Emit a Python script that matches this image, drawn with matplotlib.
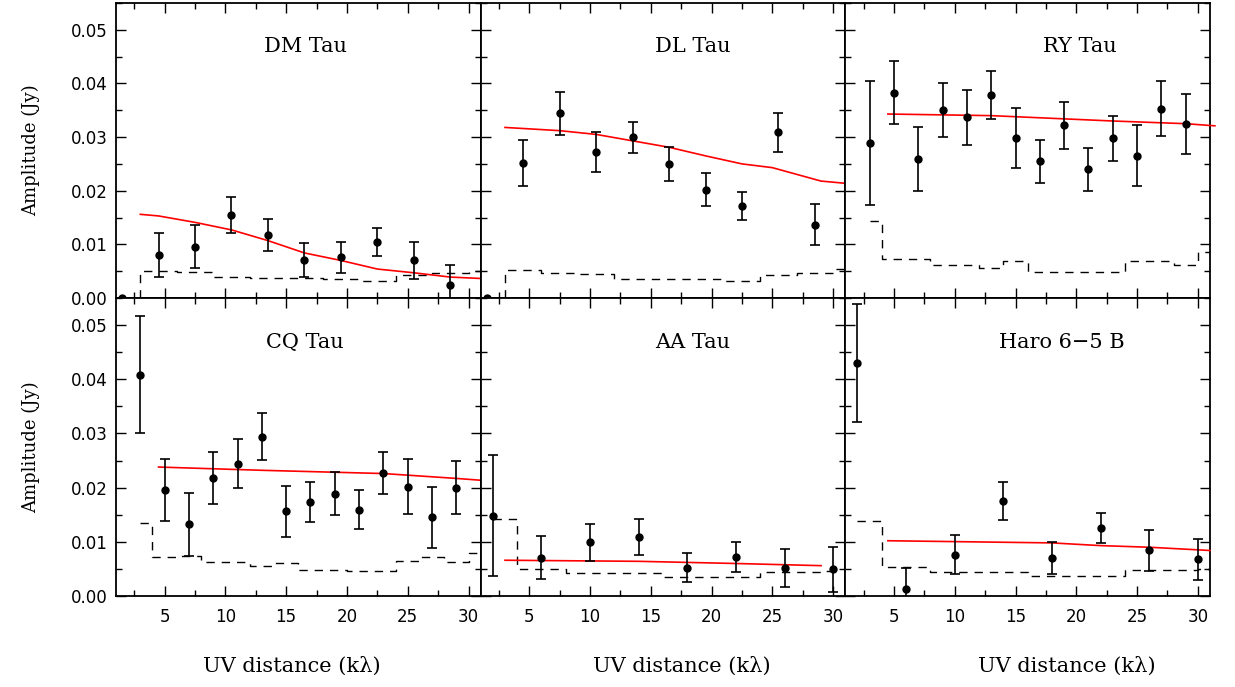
import numpy as np
import matplotlib
matplotlib.use('Agg')
import matplotlib.pyplot as plt
from matplotlib.ticker import MultipleLocator, FormatStrFormatter

# ---- binned visibility amplitudes (x in klambda, amplitude and 1-sigma in Jy)
dm_x = [4.5, 7.5, 10.5, 13.5, 16.5, 19.5, 22.5, 25.5, 28.5]
dm_amp = [0.0081, 0.0096, 0.0155, 0.0117, 0.0071, 0.0076, 0.0105, 0.0070, 0.0024]
dm_err = [0.0041, 0.0040, 0.0033, 0.0030, 0.0031, 0.0029, 0.0026, 0.0034, 0.0037]

dl_x = [4.5, 7.5, 10.5, 13.5, 16.5, 19.5, 22.5, 25.5, 28.5]
dl_amp = [0.0251, 0.0344, 0.0272, 0.0300, 0.0250, 0.0202, 0.0172, 0.0309, 0.0137]
dl_err = [0.0043, 0.0041, 0.0037, 0.0029, 0.0032, 0.0031, 0.0026, 0.0036, 0.0039]

ry_x = [3, 5, 7, 9, 11, 13, 15, 17, 19, 21, 23, 25, 27, 29]
ry_amp = [0.0289, 0.0383, 0.0259, 0.0350, 0.0337, 0.0379, 0.0298,
          0.0255, 0.0322, 0.0240, 0.0298, 0.0265, 0.0353, 0.0325]
ry_err = [0.0115, 0.0059, 0.0060, 0.0050, 0.0051, 0.0045, 0.0056,
          0.0040, 0.0044, 0.0040, 0.0042, 0.0057, 0.0051, 0.0056]

cq_x = [3, 5, 7, 9, 11, 13, 15, 17, 19, 21, 23, 25, 27, 29]
cq_amp = [0.0408, 0.0196, 0.0132, 0.0217, 0.0244, 0.0294, 0.0156,
          0.0173, 0.0189, 0.0159, 0.0227, 0.0202, 0.0145, 0.0200]
cq_err = [0.0108, 0.0057, 0.0059, 0.0048, 0.0045, 0.0043, 0.0047,
          0.0037, 0.0039, 0.0036, 0.0039, 0.0050, 0.0057, 0.0049]

aa_x = [2, 6, 10, 14, 18, 22, 26, 30]
aa_amp = [0.0148, 0.0071, 0.0099, 0.0109, 0.0052, 0.0072, 0.0051, 0.0049]
aa_err = [0.0112, 0.0039, 0.0034, 0.0034, 0.0027, 0.0028, 0.0035, 0.0042]

haro_x = [2, 6, 10, 14, 18, 22, 26, 30]
haro_amp = [0.0430, 0.0012, 0.0076, 0.0175, 0.0070, 0.0126, 0.0084, 0.0068]
haro_err = [0.0109, 0.0040, 0.0036, 0.0035, 0.0029, 0.0028, 0.0038, 0.0038]

# points sitting on the zero line at the shortest spacing
dm_zero = ([1.5], [0.0])
dl_zero = ([1.5], [0.0])

# ---- disk model curves (red)
dm_mod_x = [3.0, 4.5, 7.5, 10.5, 13.5, 16.5, 19.5, 22.5, 25.5, 28.5, 31.4]
dm_mod_y = [0.0156, 0.0153, 0.0141, 0.0127, 0.0107, 0.0084, 0.0070, 0.0054, 0.0047, 0.0039, 0.0036]
dl_mod_x = [3.0, 7.5, 10.5, 13.5, 16.5, 19.5, 22.5, 25.0, 29.0, 31.4]
dl_mod_y = [0.0318, 0.0312, 0.0305, 0.0293, 0.0281, 0.0265, 0.0250, 0.0243, 0.0218, 0.0213]
ry_mod_x = [4.5, 13.0, 23.0, 29.0, 31.4]
ry_mod_y = [0.0343, 0.0340, 0.0330, 0.0325, 0.0321]
cq_mod_x = [4.5, 13.0, 23.0, 29.0, 31.4]
cq_mod_y = [0.0238, 0.0232, 0.0226, 0.0217, 0.0213]
aa_mod_x = [3.0, 14.0, 22.0, 29.0]
aa_mod_y = [0.0066, 0.0064, 0.0060, 0.0056]
haro_mod_x = [4.5, 18.0, 22.0, 26.0, 31.0]
haro_mod_y = [0.0102, 0.0098, 0.0093, 0.0090, 0.0084]

# ---- expected noise level per bin (dashed histogram)
dm_noise_edges = [3, 6, 9, 12, 15, 18, 21, 24, 27, 30, 31]
dm_noise = [0.0050, 0.0049, 0.0040, 0.0037, 0.0038, 0.0036, 0.0031, 0.0043, 0.0047, 0.0050]
dl_noise_edges = [3, 6, 9, 12, 15, 18, 21, 24, 27, 30, 31]
dl_noise = [0.0053, 0.0046, 0.0045, 0.0035, 0.0036, 0.0035, 0.0031, 0.0043, 0.0047, 0.0055]
ry_noise_edges = [3, 4, 8, 12, 14, 16, 24, 28, 30, 31]
ry_noise = [0.0144, 0.0073, 0.0062, 0.0056, 0.0069, 0.0049, 0.0069, 0.0062, 0.0085]
cq_noise_edges = [3, 4, 6, 8, 12, 14, 16, 20, 24, 26, 28, 30, 31]
cq_noise = [0.0135, 0.0072, 0.0074, 0.0062, 0.0055, 0.0061, 0.0048, 0.0047, 0.0064, 0.0072, 0.0062, 0.0079]
aa_noise_edges = [2, 4, 8, 16, 24, 29, 30]
aa_noise = [0.0142, 0.0050, 0.0043, 0.0035, 0.0045, 0.0047]
haro_noise_edges = [2, 4, 8, 16, 24, 30, 31]
haro_noise = [0.0138, 0.0053, 0.0045, 0.0036, 0.0048, 0.0049]

names = ['DM Tau', 'DL Tau', 'RY Tau', 'CQ Tau', 'AA Tau', 'Haro 6\u22125 B']

panels = [
    (dm_x, dm_amp, dm_err, dm_mod_x, dm_mod_y, dm_noise_edges, dm_noise, dm_zero),
    (dl_x, dl_amp, dl_err, dl_mod_x, dl_mod_y, dl_noise_edges, dl_noise, dl_zero),
    (ry_x, ry_amp, ry_err, ry_mod_x, ry_mod_y, ry_noise_edges, ry_noise, None),
    (cq_x, cq_amp, cq_err, cq_mod_x, cq_mod_y, cq_noise_edges, cq_noise, None),
    (aa_x, aa_amp, aa_err, aa_mod_x, aa_mod_y, aa_noise_edges, aa_noise, None),
    (haro_x, haro_amp, haro_err, haro_mod_x, haro_mod_y, haro_noise_edges, haro_noise, None),
]
# label centre (axes fraction) for each panel name
name_pos = [0.52, 0.581, 0.643, 0.518, 0.58, 0.593]

plt.rcParams['font.family'] = 'DejaVu Sans'
serif = 'DejaVu Serif'

W, H = 1235, 687
fig = plt.figure(figsize=(W / 100, H / 100), dpi=100)

col_left = [116, 480.67, 845.33]
col_w = 364.67
row_top = [3, 298]
row_h = [295, 298]


def stair(edges, vals, from_zero):
    xs = np.repeat(edges, 2)[1:-1]
    ys = np.repeat(vals, 2)
    if from_zero:
        xs = np.r_[edges[0], xs]
        ys = np.r_[0.0, ys]
    return xs, ys


for i, (x, amp, err, mx, my, ne, nv, zero) in enumerate(panels):
    r, c = divmod(i, 3)
    ax = fig.add_axes([col_left[c] / W, 1 - (row_top[r] + row_h[r]) / H,
                       col_w / W, row_h[r] / H])

    sx, sy = stair(ne, nv, zero is not None)
    ax.plot(sx, sy, color='black', lw=1.0, ls=(0, (6, 5)))
    ax.plot(mx, my, color='red', lw=1.2, clip_on=False, zorder=3)
    ax.errorbar(x, amp, yerr=err, fmt='none', ecolor='black',
                elinewidth=1.2, capsize=3.8, capthick=1.2, zorder=4)
    ax.plot(x, amp, 'o', color='black', ms=5, clip_on=False, zorder=5)
    if zero is not None:
        ax.plot(zero[0], zero[1], 'o', color='black', ms=5, clip_on=False, zorder=5)

    ax.set_xlim(1, 31)
    ax.set_ylim(0, 0.055)
    ax.xaxis.set_major_locator(MultipleLocator(5))
    ax.xaxis.set_minor_locator(MultipleLocator(2.5))
    ax.yaxis.set_major_locator(MultipleLocator(0.01))
    ax.yaxis.set_minor_locator(MultipleLocator(0.005))
    ax.yaxis.set_major_formatter(FormatStrFormatter('%.2f'))
    ax.tick_params(which='both', direction='in', top=True, right=True, width=1.0)
    ax.tick_params(which='major', length=7)
    ax.tick_params(which='minor', length=4.5)
    ax.tick_params(axis='x', labelsize=12, pad=9)
    ax.tick_params(axis='y', labelsize=12, pad=6)
    ax.tick_params(labelleft=(c == 0), labelbottom=(r == 1))
    for s in ax.spines.values():
        s.set_linewidth(1.3)

    ax.text(name_pos[i], 0.852, names[i], transform=ax.transAxes,
            ha='center', va='center', fontsize=15, family=serif)

# shared axis titles
for yc in [150, 447]:
    fig.text(31 / W, 1 - yc / H, 'Amplitude (Jy)', rotation=90,
             ha='center', va='center', fontsize=13, family=serif)
for xc in [292, 682, 1067]:
    fig.text(xc / W, 1 - 666 / H, 'UV distance (k\u03bb)',
             ha='center', va='center', fontsize=15, family=serif)

fig.savefig('out.png', dpi=100)
